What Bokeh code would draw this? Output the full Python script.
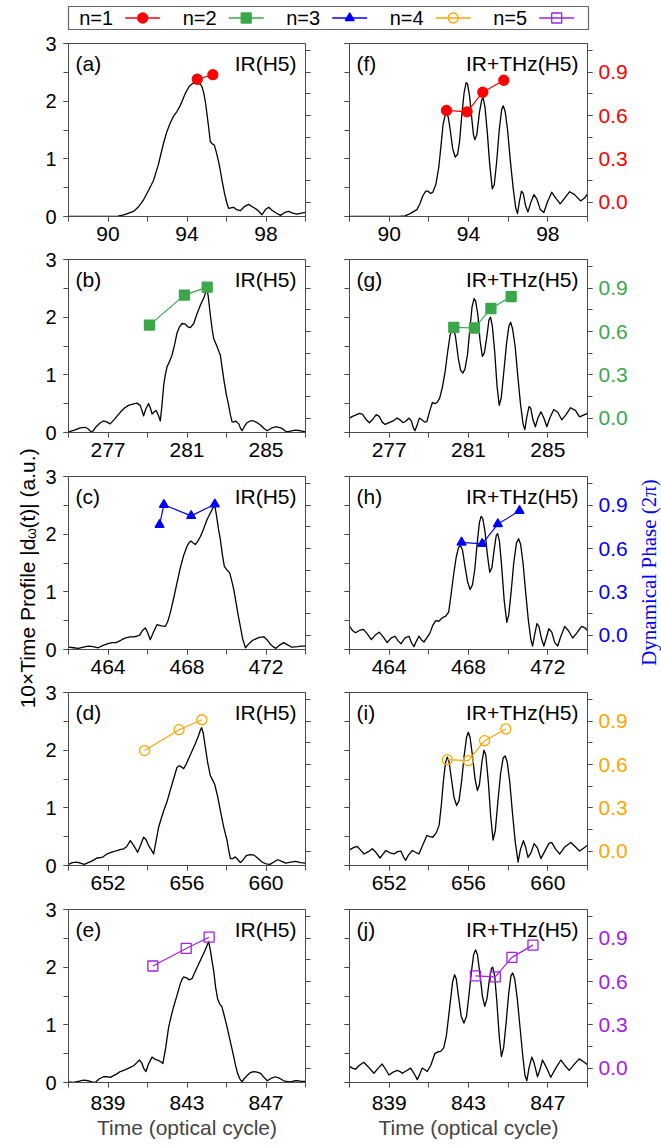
import math
from bokeh.plotting import figure
from bokeh.models import Range1d, LinearAxis, FixedTicker, PrintfTickFormatter, CustomJSTickFormatter
from bokeh.layouts import row, column
from bokeh.embed import file_html
from bokeh.resources import INLINE
from bokeh.core.properties import value

FONT = "Liberation Sans"
SERIF = "Liberation Serif"
AX = "#4a4a4a"

# ---------------- data ----------------
x_tick_labels = [[90, 94, 98], [277, 281, 285], [464, 468, 472], [652, 656, 660], [839, 843, 847]]
y_ticks_left = [0, 1, 2, 3]
y_ticks_phase = [0.0, 0.3, 0.6, 0.9]

series_names = ["n=1", "n=2", "n=3", "n=4", "n=5"]
series_colors = ["#ff0000", "#3aa84a", "#0000ff", "#ffa500", "#a020f0"]
series_markers = ["circle", "square", "triangle", "circle", "square"]
series_filled = [True, True, True, False, False]

labels_ir = ["(a)", "(b)", "(c)", "(d)", "(e)"]
labels_thz = ["(f)", "(g)", "(h)", "(i)", "(j)"]
title_ir = "IR(H5)"
title_thz = "IR+THz(H5)"

# IR time profiles (10x |d_w(t)|)
ir_a_t = [88, 89, 90, 90.5, 90.8, 91.05, 91.29, 91.55, 91.8, 92.05, 92.31, 92.55, 92.81, 92.98, 93.15, 93.32, 93.49, 93.62, 93.74, 93.87, 94.0, 94.12, 94.25, 94.42, 94.59, 94.68, 94.76, 94.85, 94.93, 95.01, 95.09, 95.18, 95.28, 95.38, 95.48, 95.6, 95.69, 95.77, 95.9, 96.02, 96.11, 96.22, 96.36, 96.5, 96.7, 96.9, 97.12, 97.35, 97.54, 97.8, 97.97, 98.14, 98.3, 98.47, 98.73, 98.95, 99.15, 99.35, 99.57, 99.8, 100]
ir_a_v = [0, 0, 0, 0.005, 0.03, 0.06, 0.087, 0.17, 0.29, 0.45, 0.63, 0.90, 1.27, 1.47, 1.62, 1.74, 1.82, 1.90, 1.99, 2.10, 2.19, 2.26, 2.30, 2.32, 2.32, 2.29, 2.25, 2.14, 1.99, 1.78, 1.56, 1.30, 1.26, 1.24, 1.12, 0.95, 0.79, 0.63, 0.40, 0.23, 0.14, 0.15, 0.16, 0.12, 0.10, 0.17, 0.21, 0.16, 0.12, 0.03, 0.12, 0.16, 0.11, 0.07, 0.02, 0.07, 0.09, 0.06, 0.04, 0.06, 0.07]
ir_b_t = [275, 275.3, 275.59, 275.85, 276.0, 276.18, 276.4, 276.61, 276.77, 276.95, 277.11, 277.35, 277.62, 277.85, 278.04, 278.25, 278.46, 278.63, 278.72, 278.80, 278.93, 279.06, 279.15, 279.23, 279.34, 279.44, 279.55, 279.65, 279.74, 279.82, 279.9, 279.99, 280.1, 280.24, 280.37, 280.49, 280.62, 280.75, 280.92, 281.05, 281.17, 281.34, 281.5, 281.68, 281.88, 281.96, 282.01, 282.08, 282.18, 282.27, 282.35, 282.52, 282.6, 282.69, 282.78, 282.86, 282.98, 283.11, 283.2, 283.28, 283.36, 283.45, 283.53, 283.62, 283.7, 283.79, 283.9, 284.04, 284.2, 284.38, 284.55, 284.72, 284.9, 285.06, 285.25, 285.48, 285.65, 285.82, 285.95, 286.07, 286.3, 286.49, 286.75, 287]
ir_b_v = [0.01, 0.04, 0.08, 0.09, 0.06, 0.0, 0.10, 0.17, 0.20, 0.18, 0.15, 0.24, 0.35, 0.43, 0.47, 0.49, 0.51, 0.47, 0.38, 0.29, 0.42, 0.50, 0.42, 0.32, 0.36, 0.38, 0.30, 0.20, 0.50, 0.82, 1.00, 1.14, 1.22, 1.34, 1.52, 1.72, 1.83, 1.89, 1.88, 1.83, 1.82, 1.89, 2.05, 2.21, 2.36, 2.46, 2.50, 2.35, 2.04, 1.80, 1.63, 1.49, 1.42, 1.34, 1.12, 0.93, 0.68, 0.47, 0.30, 0.19, 0.18, 0.20, 0.18, 0.15, 0.08, 0.03, 0.10, 0.17, 0.20, 0.20, 0.17, 0.13, 0.07, 0.03, 0.07, 0.10, 0.09, 0.07, 0.03, 0.01, 0.03, 0.04, 0.03, 0.01]
ir_c_t = [462, 462.25, 462.5, 462.75, 463.0, 463.25, 463.5, 463.75, 464.0, 464.2, 464.4, 464.55, 464.70, 464.9, 465.13, 465.3, 465.46, 465.6, 465.75, 465.89, 466.0, 466.14, 466.3, 466.48, 466.7, 466.9, 467.02, 467.15, 467.32, 467.49, 467.65, 467.82, 468.0, 468.1, 468.2, 468.3, 468.42, 468.55, 468.68, 468.85, 469.01, 469.2, 469.32, 469.40, 469.48, 469.58, 469.69, 469.79, 469.89, 470.02, 470.16, 470.26, 470.37, 470.5, 470.6, 470.70, 470.82, 470.96, 471.08, 471.2, 471.33, 471.46, 471.65, 471.89, 472.05, 472.2, 472.35, 472.5, 472.7, 472.9, 473.1, 473.3, 473.6, 473.8, 474]
ir_c_v = [0.04, 0.03, 0.02, 0.04, 0.06, 0.05, 0.03, 0.07, 0.10, 0.12, 0.12, 0.14, 0.17, 0.20, 0.22, 0.22, 0.23, 0.25, 0.33, 0.375, 0.30, 0.17, 0.30, 0.43, 0.41, 0.40, 0.48, 0.63, 0.88, 1.15, 1.40, 1.62, 1.79, 1.85, 1.88, 1.85, 1.82, 1.88, 1.96, 2.10, 2.25, 2.38, 2.46, 2.51, 2.35, 2.12, 1.90, 1.65, 1.44, 1.38, 1.33, 1.20, 1.04, 0.78, 0.58, 0.40, 0.18, 0.03, 0.08, 0.12, 0.16, 0.18, 0.21, 0.22, 0.17, 0.10, 0.05, 0.02, 0.08, 0.12, 0.08, 0.04, 0.05, 0.06, 0.06]
ir_d_t = [650, 650.2, 650.4, 650.6, 650.8, 651.0, 651.2, 651.44, 651.7, 651.95, 652.2, 652.46, 652.65, 652.8, 652.95, 653.13, 653.3, 653.5, 653.65, 653.80, 653.92, 654.05, 654.18, 654.31, 654.42, 654.56, 654.7, 654.82, 655.0, 655.15, 655.32, 655.49, 655.61, 655.72, 655.83, 655.95, 656.08, 656.25, 656.42, 656.58, 656.68, 656.74, 656.82, 656.93, 657.05, 657.18, 657.3, 657.40, 657.55, 657.69, 657.85, 658.03, 658.12, 658.20, 658.32, 658.45, 658.58, 658.7, 658.85, 659.0, 659.2, 659.4, 659.6, 659.8, 660.0, 660.2, 660.4, 660.6, 660.8, 661.0, 661.25, 661.5, 661.75, 662]
ir_d_v = [0.02, 0.05, 0.06, 0.04, 0.02, 0.05, 0.08, 0.13, 0.14, 0.20, 0.23, 0.26, 0.28, 0.29, 0.33, 0.43, 0.35, 0.23, 0.35, 0.49, 0.45, 0.35, 0.28, 0.20, 0.40, 0.66, 0.82, 0.95, 1.12, 1.30, 1.50, 1.70, 1.73, 1.71, 1.68, 1.75, 1.85, 1.98, 2.11, 2.25, 2.35, 2.39, 2.30, 2.05, 1.78, 1.56, 1.48, 1.41, 1.20, 0.95, 0.68, 0.43, 0.25, 0.12, 0.12, 0.15, 0.10, 0.05, 0.10, 0.17, 0.19, 0.18, 0.12, 0.06, 0.03, 0.02, 0.06, 0.10, 0.07, 0.04, 0.06, 0.07, 0.05, 0.04]
ir_e_t = [837, 837.25, 837.5, 837.76, 838.01, 838.2, 838.35, 838.55, 838.77, 838.95, 839.11, 839.28, 839.45, 839.62, 839.79, 840.05, 840.30, 840.45, 840.60, 840.72, 840.8, 840.92, 841.05, 841.23, 841.4, 841.57, 841.68, 841.78, 841.92, 842.07, 842.2, 842.32, 842.5, 842.66, 842.75, 842.83, 843.0, 843.12, 843.25, 843.45, 843.68, 843.9, 844.02, 844.10, 844.18, 844.27, 844.35, 844.45, 844.55, 844.66, 844.77, 844.9, 845.03, 845.2, 845.37, 845.47, 845.57, 845.68, 845.79, 845.9, 846.04, 846.2, 846.38, 846.55, 846.72, 846.9, 847.06, 847.25, 847.48, 847.7, 847.90, 848.05, 848.24, 848.45, 848.63, 848.8, 849]
ir_e_v = [0.01, 0.0, 0.02, 0.04, 0.03, 0.01, 0.0, 0.06, 0.10, 0.10, 0.09, 0.12, 0.15, 0.19, 0.21, 0.25, 0.29, 0.34, 0.39, 0.33, 0.25, 0.19, 0.32, 0.44, 0.40, 0.38, 0.36, 0.33, 0.60, 0.96, 1.15, 1.31, 1.52, 1.71, 1.79, 1.83, 1.81, 1.78, 1.80, 1.95, 2.12, 2.28, 2.38, 2.44, 2.30, 2.10, 1.94, 1.65, 1.45, 1.36, 1.31, 1.14, 0.96, 0.70, 0.44, 0.28, 0.15, 0.06, 0.01, 0.07, 0.12, 0.17, 0.19, 0.18, 0.16, 0.09, 0.03, 0.07, 0.10, 0.07, 0.03, 0.02, 0.01, 0.03, 0.03, 0.02, 0.02]

# IR+THz time profiles
thz_f_t = [88, 89, 90, 90.5, 90.8, 91.0, 91.2, 91.4, 91.55, 91.7, 91.85, 91.95, 92.1, 92.2, 92.35, 92.5, 92.62, 92.72, 92.82, 92.90, 92.98, 93.08, 93.2, 93.33, 93.45, 93.55, 93.66, 93.78, 93.88, 93.95, 94.05, 94.15, 94.25, 94.32, 94.42, 94.55, 94.67, 94.74, 94.83, 94.95, 95.07, 95.2, 95.3, 95.42, 95.55, 95.67, 95.75, 95.85, 95.97, 96.1, 96.25, 96.38, 96.47, 96.56, 96.67, 96.76, 96.88, 97.0, 97.12, 97.3, 97.45, 97.62, 97.8, 97.98, 98.2, 98.4, 98.62, 98.85, 99.1, 99.35, 99.65, 99.85, 100]
thz_f_v = [0, 0, 0, 0.003, 0.01, 0.04, 0.08, 0.12, 0.22, 0.36, 0.44, 0.44, 0.40, 0.42, 0.55, 0.85, 1.25, 1.60, 1.75, 1.78, 1.72, 1.50, 1.18, 1.03, 1.08, 1.30, 1.75, 2.15, 2.32, 2.30, 2.10, 1.75, 1.42, 1.33, 1.42, 1.80, 2.03, 2.05, 1.90, 1.45, 0.90, 0.48, 0.55, 0.95, 1.50, 1.85, 1.92, 1.82, 1.50, 1.00, 0.50, 0.15, 0.05, 0.25, 0.44, 0.40, 0.18, 0.08, 0.22, 0.38, 0.30, 0.12, 0.07, 0.25, 0.42, 0.32, 0.22, 0.32, 0.43, 0.38, 0.27, 0.32, 0.39]
thz_g_t = [275, 275.15, 275.3, 275.5, 275.65, 275.85, 276.0, 276.15, 276.35, 276.5, 276.65, 276.8, 277.0, 277.2, 277.4, 277.55, 277.7, 277.85, 278.0, 278.12, 278.22, 278.3, 278.4, 278.52, 278.65, 278.78, 278.9, 279.05, 279.18, 279.3, 279.42, 279.55, 279.68, 279.82, 279.95, 280.07, 280.18, 280.25, 280.35, 280.48, 280.6, 280.71, 280.82, 280.95, 281.07, 281.18, 281.28, 281.36, 281.47, 281.58, 281.7, 281.8, 281.92, 282.03, 282.11, 282.2, 282.32, 282.44, 282.55, 282.65, 282.78, 282.92, 283.04, 283.13, 283.22, 283.35, 283.48, 283.62, 283.75, 283.84, 283.93, 284.05, 284.14, 284.25, 284.37, 284.5, 284.65, 284.8, 284.95, 285.1, 285.3, 285.5, 285.7, 285.9, 286.15, 286.4, 286.6, 286.8, 287]
thz_g_v = [0.25, 0.28, 0.30, 0.33, 0.32, 0.22, 0.17, 0.22, 0.31, 0.28, 0.18, 0.14, 0.17, 0.20, 0.25, 0.22, 0.17, 0.20, 0.25, 0.20, 0.08, 0.03, 0.12, 0.25, 0.22, 0.18, 0.19, 0.38, 0.52, 0.50, 0.52, 0.60, 0.78, 1.05, 1.40, 1.68, 1.82, 1.82, 1.65, 1.30, 1.08, 1.03, 1.10, 1.35, 1.80, 2.18, 2.32, 2.28, 2.05, 1.60, 1.32, 1.38, 1.65, 1.95, 2.00, 1.85, 1.40, 0.80, 0.47, 0.60, 1.05, 1.55, 1.85, 1.91, 1.80, 1.50, 1.00, 0.50, 0.15, 0.05, 0.25, 0.45, 0.42, 0.22, 0.10, 0.25, 0.36, 0.25, 0.10, 0.25, 0.40, 0.35, 0.22, 0.30, 0.43, 0.38, 0.27, 0.30, 0.33]
thz_h_t = [462, 462.15, 462.3, 462.5, 462.7, 462.9, 463.1, 463.3, 463.5, 463.7, 463.9, 464.1, 464.3, 464.45, 464.6, 464.8, 465.0, 465.12, 465.25, 465.38, 465.5, 465.62, 465.75, 465.9, 466.05, 466.2, 466.35, 466.5, 466.68, 466.85, 467.0, 467.12, 467.25, 467.38, 467.5, 467.6, 467.7, 467.82, 467.95, 468.08, 468.2, 468.32, 468.44, 468.55, 468.64, 468.72, 468.83, 468.95, 469.07, 469.18, 469.3, 469.4, 469.47, 469.56, 469.67, 469.8, 469.93, 470.03, 470.15, 470.28, 470.42, 470.53, 470.63, 470.75, 470.88, 471.02, 471.14, 471.23, 471.33, 471.45, 471.55, 471.67, 471.8, 471.92, 472.05, 472.2, 472.35, 472.5, 472.65, 472.85, 473.05, 473.25, 473.45, 473.7, 473.85, 474]
thz_h_v = [0.40, 0.33, 0.29, 0.33, 0.35, 0.27, 0.17, 0.25, 0.30, 0.22, 0.12, 0.20, 0.23, 0.15, 0.10, 0.20, 0.23, 0.12, 0.05, 0.15, 0.23, 0.17, 0.13, 0.20, 0.28, 0.42, 0.50, 0.49, 0.55, 0.58, 0.65, 0.95, 1.30, 1.60, 1.77, 1.80, 1.72, 1.45, 1.18, 1.04, 1.12, 1.40, 1.85, 2.20, 2.31, 2.27, 2.05, 1.65, 1.34, 1.42, 1.75, 1.98, 2.01, 1.88, 1.45, 0.85, 0.47, 0.60, 1.00, 1.50, 1.85, 1.92, 1.82, 1.50, 1.00, 0.50, 0.18, 0.06, 0.25, 0.45, 0.40, 0.20, 0.06, 0.20, 0.36, 0.30, 0.12, 0.06, 0.22, 0.40, 0.32, 0.20, 0.28, 0.40, 0.38, 0.33]
thz_i_t = [650, 650.2, 650.39, 650.55, 650.73, 650.95, 651.15, 651.35, 651.54, 651.7, 651.83, 652.05, 652.25, 652.42, 652.59, 652.72, 652.83, 652.97, 653.17, 653.33, 653.5, 653.7, 653.9, 654.05, 654.2, 654.38, 654.52, 654.63, 654.73, 654.84, 654.93, 655.02, 655.14, 655.27, 655.4, 655.52, 655.65, 655.78, 655.9, 655.99, 656.08, 656.2, 656.33, 656.45, 656.55, 656.68, 656.78, 656.87, 657.0, 657.12, 657.24, 657.35, 657.48, 657.62, 657.75, 657.85, 657.95, 658.08, 658.22, 658.36, 658.5, 658.62, 658.77, 658.88, 659.0, 659.15, 659.31, 659.48, 659.65, 659.85, 660.05, 660.19, 660.4, 660.6, 660.85, 661.16, 661.4, 661.6, 661.8, 662]
thz_i_v = [0.27, 0.31, 0.33, 0.27, 0.20, 0.24, 0.29, 0.22, 0.13, 0.20, 0.26, 0.22, 0.20, 0.24, 0.25, 0.15, 0.09, 0.18, 0.26, 0.23, 0.20, 0.36, 0.52, 0.50, 0.49, 0.57, 0.70, 1.05, 1.45, 1.78, 1.88, 1.80, 1.50, 1.18, 1.04, 1.12, 1.45, 1.90, 2.22, 2.31, 2.22, 1.90, 1.50, 1.30, 1.40, 1.80, 2.00, 1.92, 1.45, 0.85, 0.44, 0.60, 1.10, 1.60, 1.87, 1.90, 1.80, 1.45, 0.90, 0.40, 0.06, 0.28, 0.43, 0.32, 0.14, 0.22, 0.38, 0.30, 0.12, 0.25, 0.38, 0.40, 0.28, 0.20, 0.32, 0.40, 0.32, 0.25, 0.30, 0.35]
thz_j_t = [837, 837.15, 837.3, 837.5, 837.72, 837.95, 838.23, 838.45, 838.65, 838.82, 838.99, 839.2, 839.41, 839.55, 839.66, 839.85, 840.08, 840.25, 840.42, 840.55, 840.67, 840.8, 840.92, 841.1, 841.3, 841.45, 841.6, 841.75, 841.88, 842.0, 842.1, 842.2, 842.3, 842.38, 842.5, 842.63, 842.77, 842.9, 843.02, 843.14, 843.26, 843.36, 843.45, 843.57, 843.7, 843.82, 843.93, 844.06, 844.16, 844.22, 844.32, 844.43, 844.55, 844.66, 844.77, 844.9, 845.03, 845.14, 845.23, 845.33, 845.46, 845.6, 845.74, 845.85, 845.94, 846.05, 846.19, 846.3, 846.48, 846.6, 846.73, 846.9, 847.15, 847.4, 847.66, 847.85, 848.08, 848.3, 848.58, 848.8, 849]
thz_j_v = [0.28, 0.25, 0.23, 0.30, 0.35, 0.27, 0.16, 0.25, 0.32, 0.23, 0.13, 0.18, 0.21, 0.19, 0.16, 0.20, 0.25, 0.16, 0.05, 0.15, 0.25, 0.22, 0.19, 0.30, 0.50, 0.53, 0.54, 0.60, 0.80, 1.15, 1.45, 1.75, 1.87, 1.80, 1.48, 1.15, 1.03, 1.15, 1.50, 1.90, 2.22, 2.30, 2.22, 1.90, 1.50, 1.32, 1.45, 1.80, 1.98, 2.00, 1.85, 1.40, 0.80, 0.45, 0.60, 1.05, 1.55, 1.85, 1.90, 1.80, 1.45, 0.95, 0.45, 0.12, 0.03, 0.25, 0.44, 0.35, 0.10, 0.22, 0.39, 0.28, 0.09, 0.25, 0.39, 0.30, 0.21, 0.30, 0.41, 0.36, 0.31]

# dynamical phase (2pi), IR
ph_ir_n1_t = [94.52, 95.31]
ph_ir_n1_v = [0.852, 0.884]
ph_ir_n2_t = [279.10, 280.87, 282.02]
ph_ir_n2_v = [0.645, 0.853, 0.908]
ph_ir_n3_t = [466.61, 466.83, 468.21, 469.41]
ph_ir_n3_v = [0.765, 0.904, 0.827, 0.908]
ph_ir_n4_t = [653.85, 655.60, 656.75]
ph_ir_n4_v = [0.697, 0.842, 0.911]
ph_ir_n5_t = [841.27, 842.96, 844.12]
ph_ir_n5_v = [0.708, 0.830, 0.908]
# dynamical phase (2pi), IR+THz
ph_thz_n1_t = [92.89, 93.93, 94.72, 95.78]
ph_thz_n1_v = [0.636, 0.626, 0.762, 0.845]
ph_thz_n2_t = [280.26, 281.30, 282.13, 283.15]
ph_thz_n2_v = [0.629, 0.625, 0.760, 0.843]
ph_thz_n3_t = [467.65, 468.69, 469.48, 470.57]
ph_thz_n3_v = [0.643, 0.633, 0.770, 0.862]
ph_thz_n4_t = [654.93, 655.99, 656.81, 657.88]
ph_thz_n4_v = [0.634, 0.627, 0.766, 0.847]
ph_thz_n5_t = [843.35, 844.35, 845.19, 846.25]
ph_thz_n5_v = [0.640, 0.632, 0.768, 0.853]

ir_t = [ir_a_t, ir_b_t, ir_c_t, ir_d_t, ir_e_t]
ir_v = [ir_a_v, ir_b_v, ir_c_v, ir_d_v, ir_e_v]
thz_t = [thz_f_t, thz_g_t, thz_h_t, thz_i_t, thz_j_t]
thz_v = [thz_f_v, thz_g_v, thz_h_v, thz_i_v, thz_j_v]
ph_ir_t = [ph_ir_n1_t, ph_ir_n2_t, ph_ir_n3_t, ph_ir_n4_t, ph_ir_n5_t]
ph_ir_v = [ph_ir_n1_v, ph_ir_n2_v, ph_ir_n3_v, ph_ir_n4_v, ph_ir_n5_v]
ph_thz_t = [ph_thz_n1_t, ph_thz_n2_t, ph_thz_n3_t, ph_thz_n4_t, ph_thz_n5_t]
ph_thz_v = [ph_thz_n1_v, ph_thz_n2_v, ph_thz_n3_v, ph_thz_n4_v, ph_thz_n5_v]

# ---------------- layout constants ----------------
FRAME_H = 173
TOP_B = 9
LEG_H = 34
frame_tops = [43, 259, 476, 692, 909]
row_tops = [t - TOP_B for t in frame_tops]
row_heights = [row_tops[i + 1] - row_tops[i] for i in range(4)] + [1146 - row_tops[4]]
LT_W, LF_W, RF_W, RT_W = 40, 287, 305, 29
L_BL, L_BR = 28, 22
R_BL, R_BR = 22, 45


def style_axis(ax, fs):
    ax.axis_line_color = AX
    ax.major_tick_line_color = AX
    ax.minor_tick_line_color = AX
    ax.major_tick_out = 5
    ax.major_tick_in = 0
    ax.minor_tick_out = 5
    ax.minor_tick_in = 0
    ax.major_label_text_font = FONT
    ax.major_label_text_font_size = fs
    ax.major_label_text_color = "black"


def panel(k, left_side):
    w = LF_W if left_side else RF_W
    h = row_heights[k]
    x0 = x_tick_labels[k][0] - 2
    x1 = x_tick_labels[k][-1] + 2
    p = figure(width=w, height=h, x_range=Range1d(x0, x1), y_range=Range1d(0, 3),
               output_backend="svg", toolbar_location=None, tools="")
    p.min_border_left = L_BL if left_side else R_BL
    p.min_border_right = L_BR if left_side else R_BR
    p.min_border_top = TOP_B
    p.min_border_bottom = h - TOP_B - FRAME_H
    p.outline_line_color = AX
    p.outline_line_width = 1
    p.grid.visible = False
    p.background_fill_color = "white"
    p.border_fill_color = "white"
    p.extra_y_ranges = {"phase": Range1d(-0.1, 1.1)}
    p.add_layout(LinearAxis(y_range_name="phase"), "right")

    xa = p.below[0]
    style_axis(xa, "21px")
    xa.ticker = FixedTicker(ticks=x_tick_labels[k], minor_ticks=list(range(x0, x1 + 1, 2)))
    if k == 4:
        xa.major_label_standoff = 8
        xa.axis_label = "Time (optical cycle)"
        xa.axis_label_text_font = FONT
        xa.axis_label_text_font_size = "21px"
        xa.axis_label_text_font_style = "normal"
        xa.axis_label_standoff = 3
    else:
        xa.major_label_standoff = 5

    la = p.left[0]
    style_axis(la, "20px")
    la.ticker = FixedTicker(ticks=y_ticks_left, minor_ticks=[i * 0.5 for i in range(7)])
    ra = p.right[0]
    style_axis(ra, "21px")
    ra.ticker = FixedTicker(ticks=y_ticks_phase, minor_ticks=[round(i * 0.15, 2) for i in range(8)])
    if left_side:
        la.major_label_standoff = 7
        ra.formatter = CustomJSTickFormatter(code="return ''")
        ra.major_label_standoff = 0
    else:
        la.formatter = CustomJSTickFormatter(code="return ''")
        la.major_label_standoff = 0
        ra.formatter = PrintfTickFormatter(format="%.1f")
        ra.major_label_text_color = series_colors[k]
        ra.major_label_standoff = 6

    ts = ir_t[k] if left_side else thz_t[k]
    vs = ir_v[k] if left_side else thz_v[k]
    p.line(ts, vs, line_color="black", line_width=1.3, line_join="round")

    pt = ph_ir_t[k] if left_side else ph_thz_t[k]
    pv = ph_ir_v[k] if left_side else ph_thz_v[k]
    c = series_colors[k]
    p.line(pt, pv, y_range_name="phase", line_color=c, line_width=1.2)
    p.scatter(pt, pv, y_range_name="phase", marker=series_markers[k],
              size=10 if series_markers[k] != "triangle" else 9,
              fill_color=c if series_filled[k] else None, line_color=c, line_width=1.3)

    fw = w - p.min_border_left - p.min_border_right
    upx = (x1 - x0) / fw
    vpx = 3.0 / FRAME_H
    lab = labels_ir[k] if left_side else labels_thz[k]
    ttl = title_ir if left_side else title_thz
    p.text(x=[x0 + 7 * upx], y=[3 - 20 * vpx], text=[lab], text_font=value(FONT),
           text_font_size="21px", text_baseline="middle", text_align="left", text_color="black")
    p.text(x=[x1 - 9 * upx], y=[3 - 20 * vpx], text=[ttl], text_font=value(FONT),
           text_font_size="21px", text_baseline="middle", text_align="right", text_color="black")
    return p


def blank(w, h, xr, yr):
    f = figure(width=w, height=h, x_range=Range1d(*xr), y_range=Range1d(*yr),
               output_backend="svg", toolbar_location=None, tools="",
               x_axis_location=None, y_axis_location=None)
    f.min_border_left = f.min_border_right = f.min_border_top = f.min_border_bottom = 0
    f.grid.visible = False
    f.outline_line_color = None
    f.background_fill_color = "white"
    f.border_fill_color = "white"
    return f


# legend figure (y = LEG_H - page_y)
leg = blank(661, LEG_H, (0, 661), (0, LEG_H))
leg.quad(left=[68], right=[588], top=[LEG_H - 6], bottom=[LEG_H - 29],
         fill_color=None, line_color="#666666", line_width=1.2)
for i, name in enumerate(series_names):
    bx = 78.7 + 103.5 * i
    yc = LEG_H - 17.5
    c = series_colors[i]
    leg.text(x=[bx], y=[yc], text=[name], text_font=value(FONT), text_font_size="20px",
             text_baseline="middle", text_align="left", text_color="black")
    leg.line([bx + 46, bx + 81], [yc, yc], line_color=c, line_width=1.3)
    leg.scatter([bx + 63.5], [yc], marker=series_markers[i],
                size=10 if series_markers[i] != "triangle" else 9,
                fill_color=c if series_filled[i] else None, line_color=c, line_width=1.3)

BODY_H = 1146 - LEG_H
# left title (y = 1146 - page_y)
lt = blank(LT_W, BODY_H, (0, LT_W), (0, BODY_H))
S = 533
BX = 27
lt.text(x=[BX], y=[1146 - (S + 5)], text=["10×Time Profile |d"], angle=math.pi / 2,
        text_font=value(FONT), text_font_size="21px", text_align="right",
        text_baseline="alphabetic", text_color="black")
lt.text(x=[BX + 3], y=[1146 - S], text=["ω"], angle=math.pi / 2,
        text_font=value(FONT), text_font_size="14px", text_align="center",
        text_baseline="alphabetic", text_color="black")
lt.text(x=[BX], y=[1146 - (S - 5)], text=["(t)| (a.u.)"], angle=math.pi / 2,
        text_font=value(FONT), text_font_size="21px", text_align="left",
        text_baseline="alphabetic", text_color="black")

# right title (page x = 632 + local x)
rt = blank(RT_W, BODY_H, (0, RT_W), (0, BODY_H))
rt.text(x=[16], y=[1146 - 572], text=["Dynamical Phase (2π)"], angle=math.pi / 2,
        text_font=value(SERIF), text_font_size="21px", text_align="center",
        text_baseline="middle", text_color="#0000ff")

rows = [row(panel(k, True), panel(k, False)) for k in range(5)]
grid = column(*rows)
root = column(leg, row(lt, grid, rt))

open("out.html", "w").write(file_html(root, INLINE))
